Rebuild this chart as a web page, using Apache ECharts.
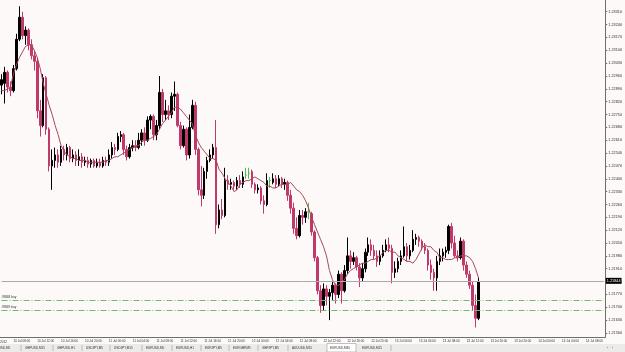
<!DOCTYPE html>
<html>
<head>
<meta charset="utf-8">
<script src="https://cdn.jsdelivr.net/npm/echarts@6/dist/echarts.min.js"></script>
<style>
html, body { margin: 0; padding: 0; background: #fcf9f8; }
#main { width: 625px; height: 352px; }
</style>
</head>
<body>
<div id="main"></div>
<script>
// EURUSD,M30 - bars from 10 Jul 06:00
var openP = [
  1.2291,1.2292,1.2298,1.2290,1.2288,1.2300,1.2316,1.2328,1.2318,1.2321,
  1.2313,1.2307,1.2304,1.2277,1.2269,1.2295,1.2267,1.2247,1.2250,1.2253,
  1.2249,1.2256,1.2253,1.2257,1.2251,1.2253,1.2250,1.2252,1.2249,1.2250,
  1.2248,1.2250,1.2247,1.2249,1.2247,1.2250,1.2249,1.2253,1.2257,1.2256,
  1.2263,1.2264,1.2256,1.2252,1.2257,1.2258,1.2257,1.2261,1.2265,1.2261,
  1.2272,1.2274,1.2264,1.2269,1.2287,1.2275,1.2277,1.2275,1.2285,1.2286,
  1.2269,1.2258,1.2267,1.2253,1.2268,1.2280,1.2256,1.2234,1.2231,1.2244,
  1.2250,1.2253,1.2257,1.2215,1.2223,1.2220,1.2239,1.2237,1.2238,1.2236,
  1.2239,1.2237,1.2242,1.2243,1.2244,1.2237,1.2234,1.2235,1.2228,1.2226,
  1.2239,1.2238,1.2240,1.2237,1.2240,1.2237,1.2238,1.2231,1.2224,1.2213,
  1.2209,1.2220,1.2219,1.2222,1.2221,1.2211,1.2197,1.2179,1.2171,1.2180,
  1.2176,1.2178,1.2182,1.2177,1.2188,1.2179,1.2190,1.2198,1.2195,1.2197,
  1.2192,1.2186,1.2191,1.2200,1.2204,1.2201,1.2198,1.2195,1.2198,1.2201,
  1.2204,1.2202,1.2189,1.2191,1.2195,1.2198,1.2203,1.2198,1.2201,1.2207,
  1.2208,1.2206,1.2203,1.2201,1.2193,1.2189,1.2186,1.2195,1.2198,1.2200,
  1.2201,1.2214,1.2205,1.2198,1.2197,1.2206,1.2193,1.2188,1.2182,1.2171,
  1.2164
];
var closeP = [
  1.2294,1.2298,1.2290,1.2288,1.2300,1.2316,1.2328,1.2318,1.2321,1.2313,
  1.2307,1.2304,1.2277,1.2269,1.2295,1.2267,1.2247,1.2250,1.2253,1.2249,
  1.2256,1.2253,1.2257,1.2251,1.2253,1.2250,1.2252,1.2249,1.2250,1.2248,
  1.2250,1.2247,1.2249,1.2247,1.2250,1.2249,1.2253,1.2257,1.2256,1.2263,
  1.2264,1.2256,1.2252,1.2257,1.2258,1.2257,1.2261,1.2265,1.2261,1.2272,
  1.2274,1.2264,1.2269,1.2287,1.2275,1.2277,1.2275,1.2285,1.2286,1.2269,
  1.2258,1.2267,1.2253,1.2268,1.2280,1.2256,1.2234,1.2231,1.2244,1.2250,
  1.2253,1.2257,1.2215,1.2223,1.2220,1.2239,1.2237,1.2238,1.2236,1.2239,
  1.2237,1.2241,1.2242,1.2243,1.2237,1.2234,1.2235,1.2228,1.2226,1.2239,
  1.2239,1.2240,1.2237,1.2240,1.2237,1.2238,1.2231,1.2224,1.2213,1.2209,
  1.2220,1.2219,1.2222,1.2222,1.2211,1.2197,1.2179,1.2171,1.2180,1.2176,
  1.2178,1.2182,1.2177,1.2188,1.2179,1.2190,1.2198,1.2195,1.2197,1.2192,
  1.2186,1.2191,1.2200,1.2204,1.2201,1.2198,1.2195,1.2198,1.2201,1.2204,
  1.2202,1.2189,1.2191,1.2195,1.2198,1.2203,1.2198,1.2201,1.2207,1.2208,
  1.2206,1.2203,1.2201,1.2193,1.2189,1.2186,1.2195,1.2198,1.2200,1.2201,
  1.2214,1.2205,1.2198,1.2197,1.2206,1.2193,1.2188,1.2182,1.2171,1.2164,
  1.2184
];
var highP = [
  1.2297,1.2301,1.2299,1.2293,1.2302,1.2319,1.2334,1.2331,1.2323,1.2322,
  1.2316,1.2310,1.2306,1.2283,1.2297,1.2296,1.2268,1.2256,1.2257,1.2256,
  1.2258,1.2258,1.2259,1.2258,1.2256,1.2255,1.2256,1.2254,1.2252,1.2252,
  1.2251,1.2251,1.2251,1.2251,1.2252,1.2252,1.2256,1.2260,1.2259,1.2265,
  1.2266,1.2265,1.2258,1.2259,1.2261,1.2261,1.2265,1.2267,1.2268,1.2274,
  1.2275,1.2275,1.2272,1.2296,1.2289,1.2283,1.2280,1.2287,1.2293,1.2287,
  1.2271,1.2269,1.2268,1.2275,1.2283,1.2282,1.2257,1.2247,1.2246,1.2252,
  1.2256,1.2259,1.2272,1.2226,1.2229,1.2246,1.2242,1.2240,1.2239,1.2241,
  1.2242,1.2244,1.2246,1.2246,1.2245,1.2238,1.2237,1.2236,1.2231,1.2243,
  1.2241,1.2243,1.2242,1.2242,1.2241,1.2240,1.2239,1.2234,1.2227,1.2219,
  1.2223,1.2223,1.2224,1.2227,1.2222,1.2212,1.2198,1.2182,1.2183,1.2182,
  1.2180,1.2184,1.2183,1.2190,1.2189,1.2193,1.2208,1.2201,1.2200,1.2198,
  1.2194,1.2194,1.2202,1.2208,1.2207,1.2204,1.2201,1.2201,1.2204,1.2207,
  1.2208,1.2204,1.2195,1.2197,1.2201,1.2214,1.2205,1.2204,1.2212,1.2210,
  1.2209,1.2207,1.2205,1.2202,1.2196,1.2191,1.2198,1.2202,1.2202,1.2203,
  1.2215,1.2216,1.2209,1.2201,1.2208,1.2207,1.2195,1.2190,1.2184,1.2177,
  1.2186
];
var lowP = [
  1.2286,1.2281,1.2287,1.2285,1.2287,1.2299,1.2315,1.2316,1.2313,1.2310,
  1.2305,1.2299,1.2273,1.2263,1.2268,1.2264,1.2244,1.2234,1.2246,1.2246,
  1.2247,1.2250,1.2250,1.2249,1.2249,1.2247,1.2247,1.2246,1.2247,1.2246,
  1.2246,1.2246,1.2246,1.2246,1.2246,1.2247,1.2247,1.2251,1.2253,1.2255,
  1.2260,1.2253,1.2250,1.2251,1.2255,1.2255,1.2256,1.2258,1.2258,1.2260,
  1.2267,1.2261,1.2261,1.2267,1.2271,1.2272,1.2272,1.2273,1.2277,1.2268,
  1.2256,1.2257,1.2250,1.2251,1.2267,1.2253,1.2231,1.2225,1.2229,1.2240,
  1.2249,1.2251,1.2210,1.2213,1.2218,1.2219,1.2234,1.2234,1.2234,1.2234,
  1.2235,1.2235,1.2240,1.2240,1.2235,1.2232,1.2232,1.2226,1.2221,1.2225,
  1.2235,1.2237,1.2235,1.2236,1.2235,1.2234,1.2228,1.2221,1.2210,1.2207,
  1.2208,1.2215,1.2216,1.2218,1.2209,1.2195,1.2177,1.2167,1.2168,1.2171,
  1.2163,1.2174,1.2172,1.2175,1.2172,1.2178,1.2188,1.2191,1.2193,1.2190,
  1.2181,1.2184,1.2189,1.2198,1.2198,1.2196,1.2192,1.2193,1.2197,1.2200,
  1.2200,1.2183,1.2186,1.2189,1.2193,1.2197,1.2195,1.2196,1.2200,1.2204,
  1.2203,1.2201,1.2199,1.2190,1.2185,1.2179,1.2179,1.2193,1.2195,1.2197,
  1.2199,1.2202,1.2197,1.2195,1.2196,1.2190,1.2186,1.2180,1.2168,1.2159,
  1.2163
];
// moving average line
var maLine = [
  1.2288,1.2288,1.2289,1.2290,1.2297,1.2302,1.2306,1.2309,1.2312,1.2313,
  1.2313,1.2310,1.2306,1.2300,1.2292,1.2286,1.2280,1.2275,1.2269,1.2264,
  1.2258,1.2255,1.2253,1.2252,1.2251,1.2251,1.2250,1.2250,1.2250,1.2249,
  1.2249,1.2249,1.2249,1.2249,1.2249,1.2250,1.2250,1.2251,1.2252,1.2252,
  1.2253,1.2254,1.2255,1.2256,1.2257,1.2258,1.2258,1.2260,1.2261,1.2261,
  1.2262,1.2263,1.2264,1.2267,1.2270,1.2272,1.2274,1.2276,1.2279,1.2279,
  1.2278,1.2276,1.2274,1.2272,1.2270,1.2264,1.2260,1.2257,1.2255,1.2253,
  1.2251,1.2251,1.2250,1.2245,1.2243,1.2240,1.2238,1.2236,1.2233,1.2234,
  1.2237,1.2238,1.2239,1.2239,1.2240,1.2241,1.2240,1.2239,1.2238,1.2236,
  1.2236,1.2235,1.2235,1.2236,1.2237,1.2237,1.2237,1.2238,1.2236,1.2234,
  1.2233,1.2231,1.2228,1.2224,1.2219,1.2215,1.2211,1.2207,1.2203,1.2198,
  1.2190,1.2185,1.2182,1.2182,1.2183,1.2185,1.2188,1.2190,1.2191,1.2192,
  1.2193,1.2194,1.2194,1.2195,1.2196,1.2196,1.2197,1.2198,1.2200,1.2201,
  1.2201,1.2200,1.2200,1.2198,1.2197,1.2196,1.2195,1.2195,1.2194,1.2196,
  1.2199,1.2202,1.2204,1.2203,1.2203,1.2201,1.2200,1.2197,1.2197,1.2196,
  1.2196,1.2196,1.2197,1.2197,1.2198,1.2198,1.2198,1.2197,1.2195,1.2191,
  1.2186
];
var priceTicks = [
  1.21560, 1.21630, 1.21700, 1.21770, 1.21840, 1.21910, 1.21980, 1.22050,
  1.22120, 1.22190, 1.22260, 1.22330, 1.22400, 1.22470, 1.22540, 1.22610,
  1.22680, 1.22750, 1.22820, 1.22890, 1.22960, 1.23030, 1.23100, 1.23170,
  1.23240, 1.23310
];
var bidPrice = 1.21844;
var orderLevels = [1.21740, 1.21685];
var orderNames = ['#8848 buy', '#8849 buy'];
var tabNames = ['EURUSD,M5', 'GBPUSD,M15', 'GBPUSD,H1', 'USDJPY,M5', 'USDJPY,M15', 'EURUSD,M5',
  'EURUSD,H1', 'EURJPY,M5', 'EURGBP,M5', 'GBPJPY,M5', 'AUDUSD,M15', 'EURUSD,M30', 'EURUSD,M15'];
var tabX = [-8, 25, 57, 86, 114, 146, 176, 205, 233, 262, 292, 330, 362];
var activeTab = 11;

// bar times, chart is shifted so extra empty slots on the right
function pad(n) { return n < 10 ? '0' + n : '' + n; }
var slots = 203;
var barTimes = [];
for (var i = 0; i < slots; i++) {
  var t = new Date(Date.UTC(2012, 6, 10, 6, 0) + i * 30 * 60000);
  barTimes.push(t.getUTCDate() + ' Jul ' + pad(t.getUTCHours()) + ':' + pad(t.getUTCMinutes()));
}
function every4h(idx) { return idx % 8 === 4; }

var green = '#4cbb4c';
var candles = openP.map(function (o, i) {
  var item = { value: [o, closeP[i], lowP[i], highP[i]] };
  if (o === closeP[i]) {
    item.itemStyle = { color: green, color0: green, borderColor: green, borderColor0: green };
  }
  return item;
});

var font = 'Liberation Sans';
// horizontal level across the whole chart
function level(v, lineStyle, label) {
  return [
    { coord: [barTimes[0], v], lineStyle: lineStyle, label: label },
    { coord: [barTimes[slots - 1], v] }
  ];
}
var bidLabel = {
  show: true, position: 'end', formatter: bidPrice.toFixed(5),
  backgroundColor: '#000', color: '#fff', fontSize: 3.8, padding: [1, 1, 1, 1],
  distance: 2, fontFamily: font
};
var orderStyle = { color: '#6dbb6d', type: [6, 2, 1, 2], width: 1 };
function orderLabel(k) {
  return { show: true, position: 'insideStartTop', formatter: orderNames[k],
    fontSize: 3.2, color: '#333', distance: [0, 1], fontFamily: font };
}

var graphics = [
  { type: 'rect', shape: { x: 0, y: 344, width: 625, height: 8 }, style: { fill: '#ecebea' }, silent: true },
  { type: 'rect', shape: { x: tabX[activeTab] - 3, y: 343.5, width: 29, height: 8.5 },
    style: { fill: '#ffffff', stroke: '#999', lineWidth: 0.6 }, silent: true },
  { type: 'text', x: 7, y: 342, style: { text: '10 Jul 2012', fontSize: 3.1, fill: '#333',
    align: 'right', verticalAlign: 'middle', fontFamily: font } },
  { type: 'text', x: 607, y: 348, style: { text: '‹   ›', fontSize: 4, fill: '#555',
    verticalAlign: 'middle', fontFamily: font } }
];
tabNames.forEach(function (name, k) {
  graphics.push({ type: 'text', x: tabX[k], y: 348,
    style: { text: name, fontSize: 3.1, fill: '#333', verticalAlign: 'middle', fontFamily: font } });
  if (k !== activeTab && k + 1 !== activeTab) {
    var sx = (k + 1 < tabX.length ? tabX[k + 1] : tabX[k] + 33) - 4;
    graphics.push({ type: 'line', shape: { x1: sx, y1: 345, x2: sx, y2: 351 },
      style: { stroke: '#999', lineWidth: 0.6 } });
  }
});

var chart = echarts.init(document.getElementById('main'));
chart.setOption({
  animation: false,
  backgroundColor: '#fcf9f8',
  grid: { left: 0, top: 0, width: 610, height: 337 },
  xAxis: {
    type: 'category',
    data: barTimes,
    boundaryGap: true,
    axisLine: { lineStyle: { color: '#6e6e6e' } },
    axisTick: { interval: every4h, alignWithLabel: true, length: 2, lineStyle: { color: '#6e6e6e' } },
    axisLabel: { interval: every4h, align: 'left', fontSize: 3.1, color: '#333', margin: 3,
      fontFamily: font },
    splitLine: { show: false }
  },
  yAxis: {
    type: 'value',
    position: 'right',
    min: 1.21538,
    max: 1.23374,
    splitLine: { show: false },
    axisLine: { show: true, lineStyle: { color: '#6e6e6e' } },
    axisTick: { show: true, length: 2, customValues: priceTicks, lineStyle: { color: '#6e6e6e' } },
    axisLabel: {
      customValues: priceTicks,
      formatter: function (v) { return v.toFixed(5); },
      fontSize: 3.8, color: '#333', margin: 3, fontFamily: font
    }
  },
  series: [{
    type: 'candlestick',
    data: candles,
    barWidth: 2,
    itemStyle: { color: '#000000', color0: '#c0396b', borderColor: '#000000', borderColor0: '#c0396b', borderWidth: 1 }
  }, {
    type: 'line',
    data: maLine,
    symbol: 'none',
    smooth: false,
    lineStyle: { color: '#a8485c', width: 1 },
    z: 3,
    markLine: {
      symbol: 'none',
      silent: true,
      animation: false,
      data: [
        level(bidPrice, { color: '#a9a9a9', type: 'solid', width: 1 }, bidLabel),
        level(orderLevels[0], orderStyle, orderLabel(0)),
        level(orderLevels[1], orderStyle, orderLabel(1))
      ]
    }
  }],
  graphic: graphics
});
</script>
</body>
</html>
